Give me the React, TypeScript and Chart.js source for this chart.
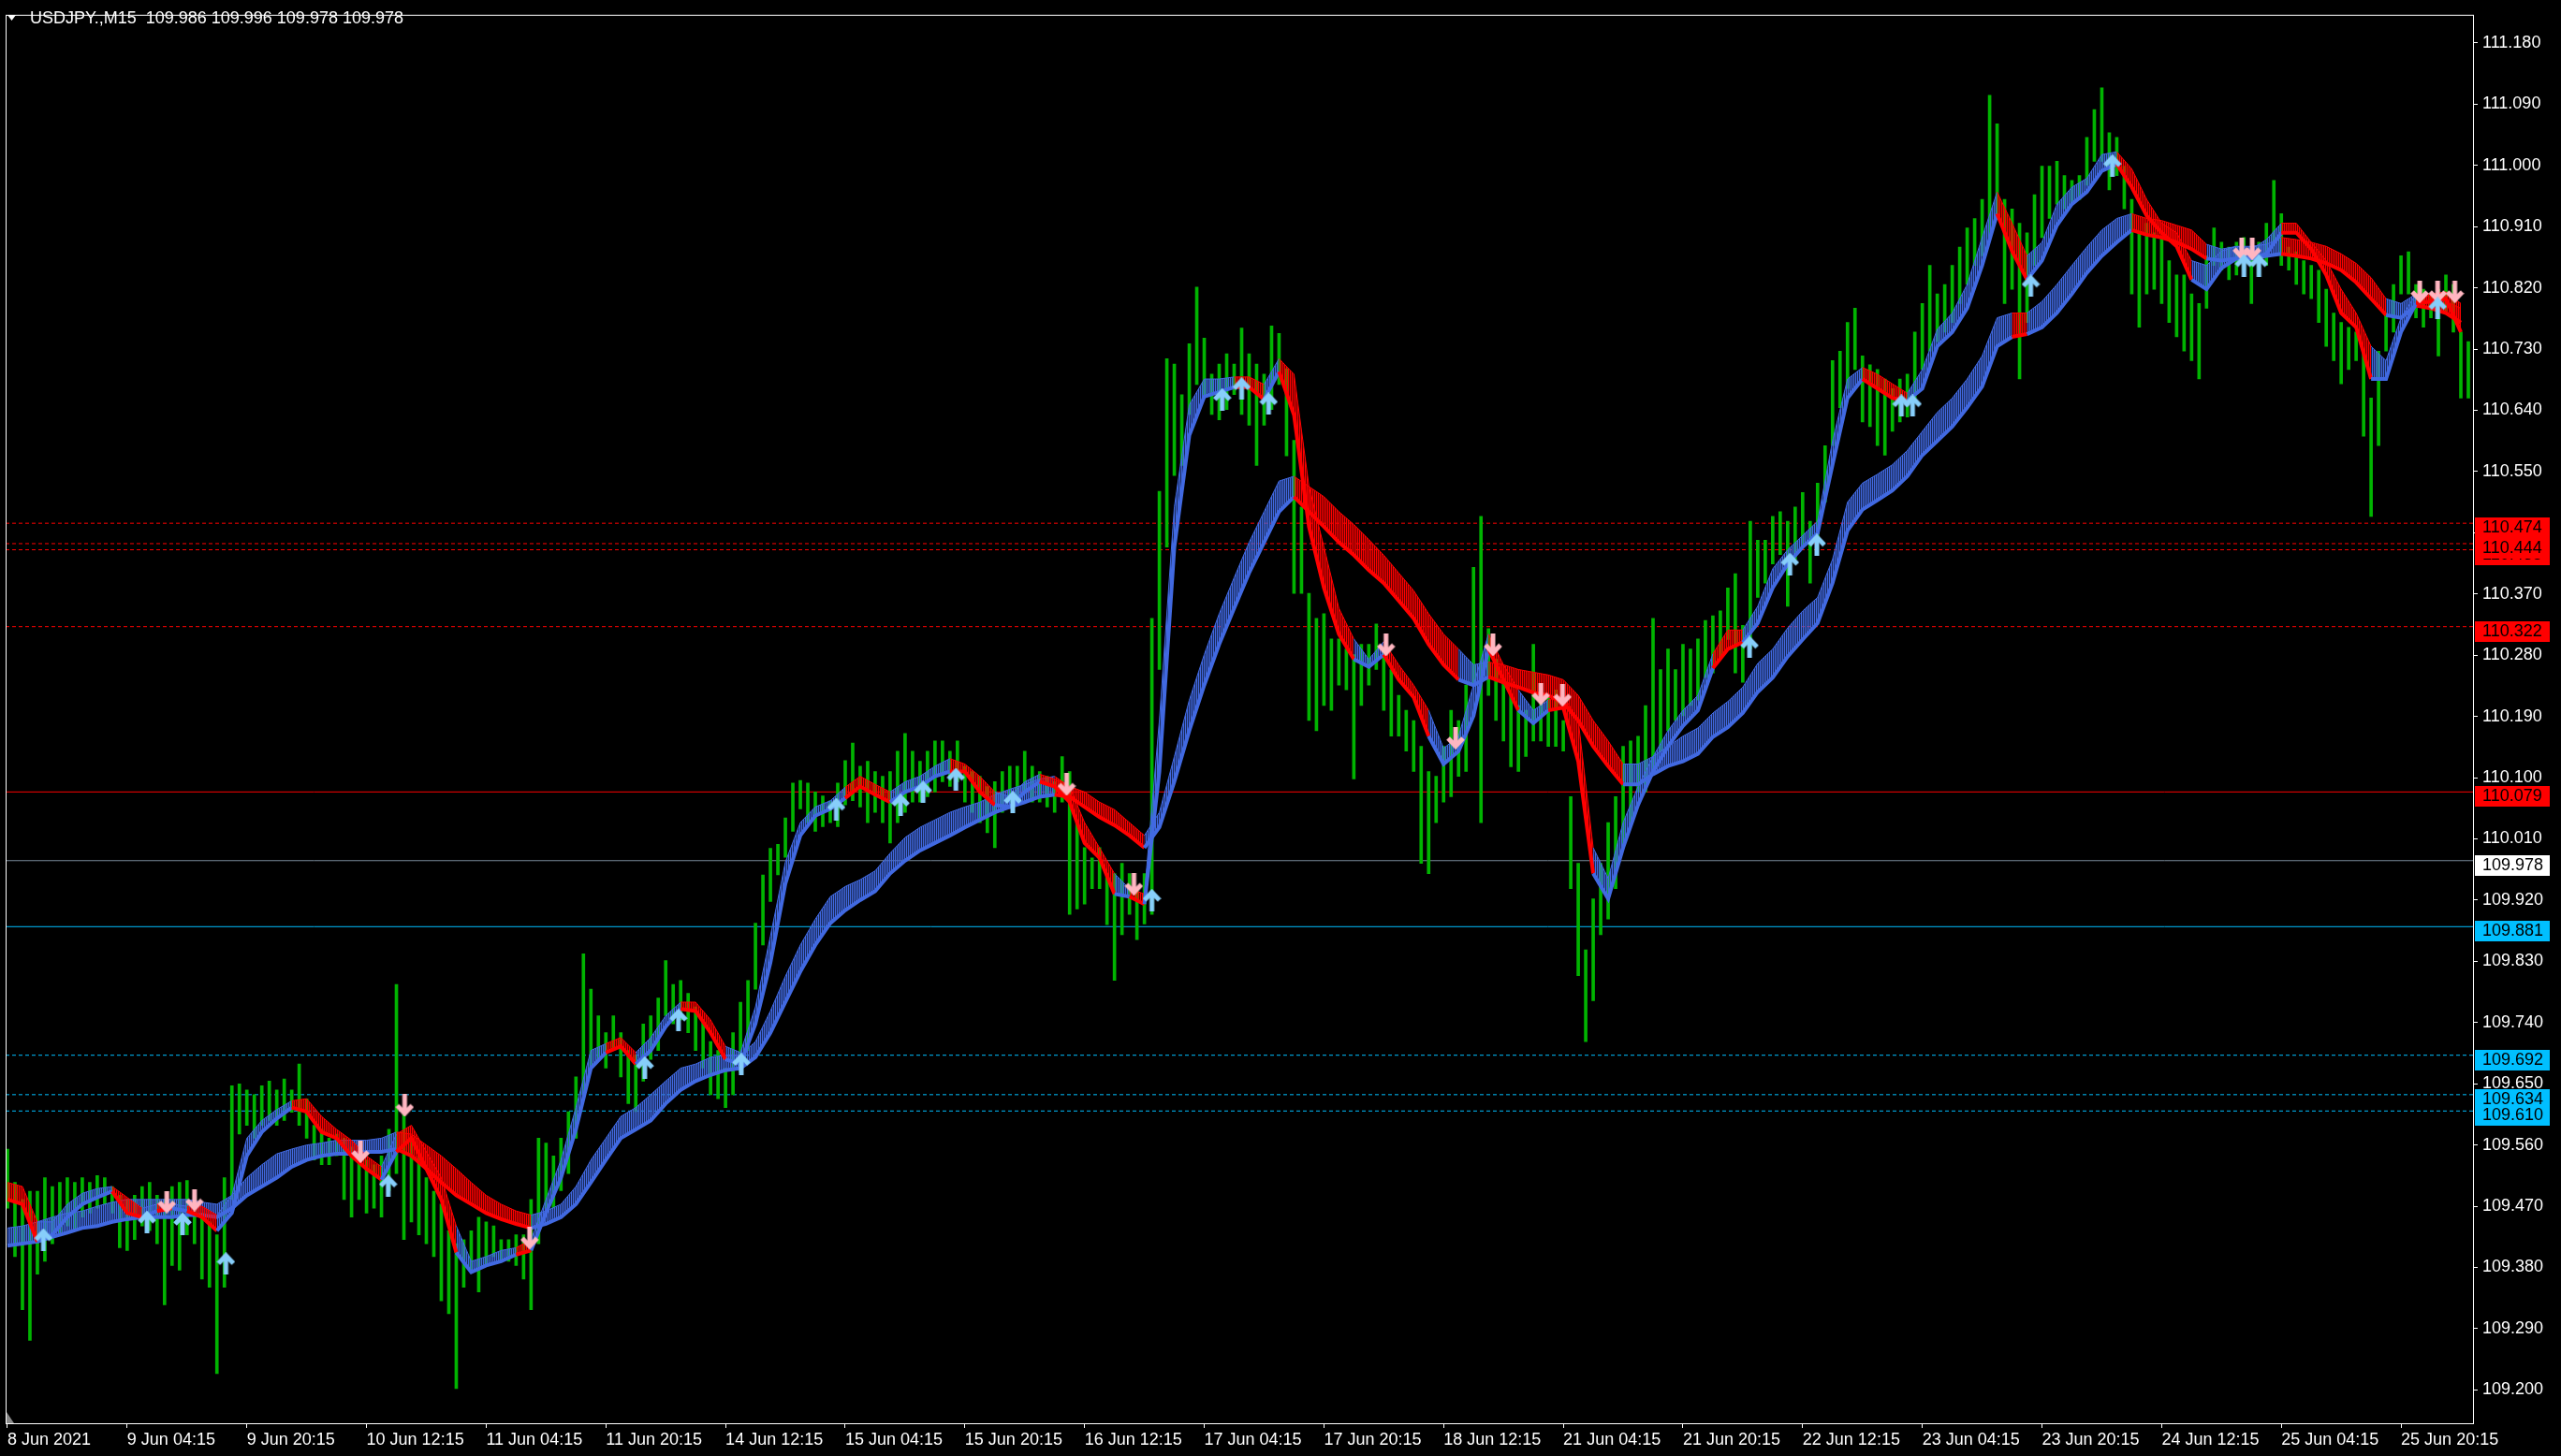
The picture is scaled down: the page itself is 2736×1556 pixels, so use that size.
import React, { useEffect, useRef } from 'react';
import { Chart, registerables } from 'chart.js';
Chart.register(...registerables);

const W = 2736;
const H = 1556;
const FONT = '"Liberation Sans", Arial, sans-serif';
const BASE = 109;
const toPrice = (p: number) => BASE + p / 1000;

const symbolTitle = 'USDJPY.,M15';
const headerValues = [109.986, 109.996, 109.978, 109.978];

const xTickHours = [0, 16, 32, 48, 64, 80, 96, 112, 128, 144, 160, 176, 192, 208, 224, 240, 256, 272, 288, 304, 320];
const xLabels = ['8 Jun 2021', '9 Jun 04:15', '9 Jun 20:15', '10 Jun 12:15', '11 Jun 04:15', '11 Jun 20:15', '14 Jun 12:15', '15 Jun 04:15', '15 Jun 20:15', '16 Jun 12:15', '17 Jun 04:15', '17 Jun 20:15', '18 Jun 12:15', '21 Jun 04:15', '21 Jun 20:15', '22 Jun 12:15', '23 Jun 04:15', '23 Jun 20:15', '24 Jun 12:15', '25 Jun 04:15', '25 Jun 20:15'];
const yTicks = [109.200, 109.290, 109.380, 109.470, 109.560, 109.650, 109.740, 109.830, 109.920, 110.010, 110.100, 110.190, 110.280, 110.370, 110.460, 110.550, 110.640, 110.730, 110.820, 110.910, 111.000, 111.090, 111.180];

// hourly high / low, in points above 109.000
const priceHigh = [
  554,505,480,492,492,512,499,505,512,505,
  512,505,515,512,499,486,480,486,499,505,
  486,480,499,505,508,486,460,447,428,512,
  647,650,641,634,647,654,641,657,641,679,
  628,589,583,570,576,570,557,550,538,531,
  544,583,796,609,570,544,512,492,473,434,
  415,421,434,454,447,441,421,421,428,428,
  480,570,563,544,570,609,660,841,789,750,
  725,750,725,699,692,738,750,776,831,796,
  802,783,763,744,712,699,673,725,770,802,
  886,957,996,1002,1041,1092,1096,1092,1079,1073,
  1066,1092,1125,1151,1117,1124,1109,1102,1109,1139,
  1165,1139,1124,1139,1154,1154,1139,1154,1117,1109,
  1102,1087,1094,1109,1117,1117,1139,1117,1109,1102,
  1094,1131,1109,1034,997,982,997,959,959,974,
  959,937,959,1334,1521,1716,1708,1663,1738,1821,
  1746,1693,1708,1723,1708,1761,1723,1708,1693,1764,
  1753,1701,1596,1498,1371,1334,1341,1304,1304,1289,
  1281,1296,1296,1326,1289,1259,1221,1199,1184,1146,
  1109,1102,1146,1199,1184,1236,1409,1484,1319,1274,
  1244,1221,1206,1199,1296,1229,1221,1229,1184,1072,
  974,847,922,974,1034,1072,1146,1154,1161,1206,
  1334,1259,1289,1259,1296,1289,1304,1331,1338,1345,
  1379,1400,1324,1477,1449,1449,1484,1491,1477,1498,
  1519,1477,1533,1588,1713,1727,1769,1790,1720,1707,
  1700,1686,1672,1686,1693,1755,1797,1853,1811,1825,
  1853,1880,1908,1922,1950,2103,2061,1950,1936,1915,
  1901,1957,1999,1999,2006,1985,1978,1985,2041,2082,
  2114,2048,2041,1999,1950,1901,1915,1901,1894,1860,
  1839,1839,1811,1797,1867,1908,1887,1880,1887,1894,
  1880,1887,1915,1978,1929,1880,1873,1860,1853,1846,
  1818,1783,1769,1762,1755,1727,1658,1727,1783,1825,
  1867,1873,1825,1818,1811,1818,1839,1825,1755,1741,
];
const priceLow = [
  467,396,318,273,370,389,415,428,441,434,
  454,460,467,473,460,409,405,421,441,434,
  415,325,383,376,428,415,363,351,224,351,
  480,576,589,570,589,596,589,596,608,589,
  570,538,531,531,544,480,454,480,460,467,
  454,493,518,421,447,428,415,396,331,312,
  202,351,376,344,383,396,389,389,383,363,
  318,415,467,467,493,518,570,634,673,686,
  673,699,660,621,609,654,686,699,750,738,
  744,725,699,673,634,628,615,634,667,699,
  789,854,918,957,983,1021,1054,1034,1021,1028,
  1034,1028,1060,1066,1057,1034,1049,1034,1004,1034,
  1049,1064,1064,1072,1079,1094,1087,1094,1064,1049,
  1034,1019,997,1049,1064,1064,1079,1064,1064,1057,
  1049,1064,899,907,914,937,937,884,802,869,
  899,862,885,899,1259,1439,1544,1559,1634,1678,
  1663,1634,1626,1641,1663,1634,1618,1559,1618,1641,
  1678,1573,1371,1371,1184,1169,1206,1199,1236,1229,
  1098,1206,1236,1259,1199,1161,1161,1139,1109,974,
  959,1034,1064,1072,1102,1109,1236,1034,1221,1184,
  1154,1116,1109,1131,1154,1154,1146,1146,1139,937,
  809,712,772,869,892,937,997,1034,1079,1079,
  1109,1139,1169,1184,1191,1206,1214,1247,1254,1275,
  1303,1254,1240,1289,1365,1386,1414,1428,1352,1421,
  1442,1386,1449,1505,1588,1644,1672,1700,1623,1616,
  1588,1574,1609,1623,1630,1658,1700,1727,1741,1755,
  1769,1797,1825,1853,1867,1894,1922,1797,1818,1686,
  1769,1853,1894,1922,1943,1936,1943,1950,1971,2006,
  2006,1964,1985,1936,1811,1762,1811,1818,1797,1769,
  1748,1727,1713,1686,1790,1853,1846,1832,1839,1846,
  1797,1839,1853,1887,1853,1846,1825,1811,1804,1769,
  1734,1713,1679,1700,1713,1602,1484,1588,1727,1755,
  1811,1811,1776,1762,1776,1720,1783,1755,1658,1658,
];

// bands, one value every 2 hours (points above 109.000)
const fastLow = [
  480,473,418,428,454,473,483,492,460,454,
  463,467,463,454,434,460,544,579,599,615,
  609,579,570,544,525,509,550,570,525,480,
  402,373,383,389,399,405,460,512,583,673,
  696,705,679,699,734,760,757,725,686,679,
  738,828,944,1015,1044,1054,1070,
  1087,1075,1064,1079,1087,1102,1109,1109,1079,1060,
  1057,1079,1094,1087,1064,1004,982,929,925,914,
  1109,1439,1603,1660,1667,1674,1674,1656,1697,1633,
  1469,1379,1311,1274,1263,1281,1244,1218,1161,1120,
  1139,1191,1289,1244,1199,1180,1199,1203,1124,959,
  922,997,1060,1109,1146,1176,1199,
  1261,1289,1299,1327,1379,1414,1439,1459,1560,1658,
  1686,1672,1658,1654,1672,1734,1755,1790,1853,1929,
  1874,1832,1860,1912,1943,1961,1992,2002,1968,1926,
  1901,1881,1832,1818,1849,1863,1863,1870,1901,1901,
  1877,1839,1783,1762,1686,1686,1755,1797,1800,1804,
  1755,
];
const fastHigh = [
  505,499,447,447,473,489,496,499,483,467,
  473,473,470,470,457,486,570,596,612,625,
  628,602,583,567,544,528,576,589,550,512,
  441,389,396,405,409,421,480,538,615,699,
  709,718,696,718,750,770,770,744,705,696,
  763,867,976,1034,1057,1066,1086,
  1102,1090,1079,1094,1102,1117,1128,1120,1102,1079,
  1072,1094,1105,1098,1087,1034,997,959,937,929,
  1184,1498,1648,1686,1686,1689,1689,1678,1716,1693,
  1528,1439,1349,1304,1274,1300,1266,1236,1199,1143,
  1161,1236,1311,1266,1229,1199,1214,1221,1184,997,
  952,1034,1087,1131,1169,1199,1221,
  1282,1317,1317,1352,1407,1435,1456,1477,1595,1686,
  1703,1693,1679,1665,1700,1759,1783,1825,1894,1961,
  1915,1867,1887,1943,1968,1981,2016,2020,1995,1950,
  1915,1901,1860,1853,1874,1881,1877,1891,1915,1915,
  1887,1860,1818,1783,1734,1713,1776,1811,1811,1814,
  1797,
];
const fastUp = [
  1,0,0,1,1,1,1,1,0,0, 1,0,1,0,0,1,1,1,1,1, 0,0,0,0,0,0,1,0,0,0, 0,1,1,1,1,0,1,1,1,1, 1,0,0,1,1,1,0,0,0,1, 1,1,1,1,1,1,1,
  0,0,0,1,1,1,1,0,0,0, 1,1,1,0,0,0,0,0,1,0, 1,1,1,1,1,1,0,0,1,0, 0,0,0,0,1,1,0,0,0,1, 1,1,1,0,0,1,1,0,0,0, 1,1,1,1,1,1,1,
  1,0,0,1,1,1,1,1,1,1, 1,0,0,0,1,1,1,1,1,1, 0,0,1,1,1,1,1,1,0,0, 0,0,0,1,1,1,1,1,1,0, 0,0,0,0,0,1,1,1,0,0, 0,
];
const slowLow = [
  412,415,418,425,431,438,441,447,451,454,
  454,454,457,457,454,467,486,499,512,528,
  538,544,547,547,550,550,554,544,525,505,
  486,473,460,451,444,438,444,454,473,505,
  538,570,583,596,621,641,654,663,670,673,
  689,725,770,815,854,886,905,
  920,933,959,978,993,1004,1015,1027,1038,1049,
  1057,1064,1072,1075,1072,1057,1042,1030,1015,997,
  1027,1094,1169,1236,1296,1349,1401,1446,1491,1513,
  1491,1469,1446,1427,1405,1386,1360,1334,1296,1266,
  1244,1236,1248,1240,1233,1225,1221,1210,1184,1146,
  1117,1090,1090,1105,1117,1124,1135,
  1160,1174,1195,1226,1247,1278,1303,1327,1386,1463,
  1494,1508,1522,1543,1574,1595,1616,1644,1675,1734,
  1748,1752,1762,1783,1811,1842,1867,1887,1905,1898,
  1894,1887,1877,1863,1860,1863,1863,1867,1870,1867,
  1863,1856,1846,1828,1804,1780,1776,1794,1790,1783,
  1769,
];
const slowHigh = [
  438,441,447,454,460,463,470,476,480,480,
  480,480,480,476,473,486,512,531,547,554,
  560,563,567,567,567,570,579,576,560,544,
  525,505,486,473,463,457,463,473,499,538,
  570,602,615,634,654,673,679,689,692,692,
  712,757,808,854,892,925,940,
  950,963,989,1012,1027,1038,1049,1057,1064,1075,
  1083,1090,1098,1102,1087,1079,1064,1053,1034,1015,
  1049,1131,1214,1281,1341,1394,1446,1491,1536,1543,
  1528,1513,1491,1472,1450,1427,1401,1375,1341,1311,
  1289,1266,1270,1266,1259,1255,1251,1244,1221,1184,
  1154,1120,1120,1131,1146,1161,1173,
  1195,1212,1233,1268,1289,1320,1345,1365,1421,1505,
  1533,1546,1560,1581,1609,1637,1658,1686,1720,1776,
  1783,1783,1800,1825,1853,1880,1905,1922,1929,1922,
  1919,1912,1905,1884,1877,1881,1881,1884,1894,1891,
  1887,1881,1870,1856,1835,1804,1797,1811,1807,1800,
  1790,
];
const slowUp = [
  1,1,1,1,1,1,1,1,1,1, 1,1,1,1,1,1,1,1,1,1, 1,1,1,1,1,1,1,0,0,0, 0,0,0,0,0,0,1,1,1,1, 1,1,1,1,1,1,1,1,1,1, 1,1,1,1,1,1,1,
  1,1,1,1,1,1,1,1,1,1, 1,1,1,1,0,0,0,0,0,0, 1,1,1,1,1,1,1,1,1,1, 0,0,0,0,0,0,0,0,0,0, 0,1,1,0,0,0,0,0,0,0, 0,0,1,1,1,1,1,
  1,1,1,1,1,1,1,1,1,1, 1,1,1,1,1,1,1,1,1,1, 1,0,1,1,1,1,1,1,1,0, 0,0,0,0,1,1,1,1,1,0, 0,0,0,0,0,0,1,1,0,0, 0,
];

const upArrowHours = [4.8, 18.65, 23.4, 29.2, 50.9, 85.2, 89.7, 98.1, 110.8, 119.4, 122.4, 126.8, 134.4, 153, 162.4, 165, 168.6, 232.9, 238.3, 241.9, 253.2, 254.7, 270.5, 281.4, 299, 301, 324.9];
const upArrowPts = [421, 447, 444, 386, 500, 674, 744, 679, 1054, 1060, 1079, 1098, 1064, 920, 1656, 1672, 1650, 1292, 1414, 1442, 1647, 1647, 1823, 2000, 1853, 1853, 1790];
const downArrowHours = [21.3, 25, 47.2, 53.1, 69.8, 141.6, 150.6, 184.3, 193.6, 198.6, 205, 207.9, 298.7, 300.1, 322.5, 324.9, 327.2];
const downArrowPts = [476, 479, 550, 618, 423, 1090, 943, 1295, 1158, 1295, 1223, 1221, 1877, 1877, 1814, 1814, 1814];

const redDotLevels = [110.474, 110.435, 110.444, 110.322];
const redSolidLevels = [110.079];
const bidLevels = [109.978];
const blueSolidLevels = [109.881];
const blueDotLevels = [109.692, 109.634, 109.610];

const X_MIN = -0.25;
const X_MAX = 329.625;
const Y_MIN = 109.151;
const Y_MAX = 111.2214;

const BLUE = '#4169E1';
const RED = '#FF0000';
const GREEN = '#00B400';
const CYAN = '#00BFFF';
const GRAY = '#778899';

function hatch(color: string, faint: string) {
  const c = document.createElement('canvas');
  c.width = 2; c.height = 1;
  const g = c.getContext('2d')!;
  g.fillStyle = color;
  g.fillRect(0, 0, 1, 1);
  g.fillStyle = faint;
  g.fillRect(1, 0, 1, 1);
  return g.createPattern(c, 'repeat')!;
}

function makeArrow(color: string, up: boolean) {
  const c = document.createElement('canvas');
  c.width = 20; c.height = 24;
  const g = c.getContext('2d')!;
  if (!up) { g.translate(0, 24); g.scale(1, -1); }
  g.fillStyle = color;
  g.fillRect(7.5, 3, 5, 21);
  g.strokeStyle = color;
  g.lineWidth = 5;
  g.lineJoin = 'miter';
  g.beginPath();
  g.moveTo(2, 12); g.lineTo(10, 3.5); g.lineTo(18, 12);
  g.stroke();
  return c;
}

export default function App() {
  const ref = useRef<HTMLCanvasElement>(null);
  useEffect(() => {
    const canvas = ref.current!;
    const blueHatch = hatch(BLUE, 'rgba(65,105,225,0.4)');
    const redHatch = hatch(RED, 'rgba(255,0,0,0.4)');
    const upImg = makeArrow('#87CEFA', true);
    const downImg = makeArrow('#FFB6C1', false);

    const band = (arr: number[]) => arr.map((v, i) => ({ x: i * 2, y: toPrice(v) }));
    const level = (v: number) => [{ x: X_MIN, y: v }, { x: X_MAX, y: v }];

    const datasets: any[] = [];
    datasets.push({
      type: 'line', data: upArrowHours.map((h, i) => ({ x: h, y: toPrice(upArrowPts[i]) })),
      showLine: false, pointStyle: upImg, pointRadius: 5, order: 1,
    });
    datasets.push({
      type: 'line', data: downArrowHours.map((h, i) => ({ x: h, y: toPrice(downArrowPts[i]) })),
      showLine: false, pointStyle: downImg, pointRadius: 5, order: 1,
    });
    // fast band: index 2 (thick lower), 3 (thin upper with hatch fill)
    datasets.push({
      type: 'line', data: band(fastLow), borderWidth: 4, borderColor: BLUE, pointRadius: 0, order: 10,
      segment: { borderColor: (c: any) => (fastUp[c.p1DataIndex] ? BLUE : RED) },
    });
    datasets.push({
      type: 'line', data: band(fastHigh), borderWidth: 1, borderColor: BLUE, pointRadius: 0, order: 11,
      fill: 2, backgroundColor: blueHatch,
      segment: {
        borderColor: (c: any) => (fastUp[c.p1DataIndex] ? BLUE : RED),
        backgroundColor: (c: any) => (fastUp[c.p1DataIndex] ? blueHatch : redHatch),
      },
    });
    // slow band: index 4, 5
    datasets.push({
      type: 'line', data: band(slowLow), borderWidth: 4, borderColor: BLUE, pointRadius: 0, order: 20,
      segment: { borderColor: (c: any) => (slowUp[c.p1DataIndex] ? BLUE : RED) },
    });
    datasets.push({
      type: 'line', data: band(slowHigh), borderWidth: 1, borderColor: BLUE, pointRadius: 0, order: 21,
      fill: 4, backgroundColor: blueHatch,
      segment: {
        borderColor: (c: any) => (slowUp[c.p1DataIndex] ? BLUE : RED),
        backgroundColor: (c: any) => (slowUp[c.p1DataIndex] ? blueHatch : redHatch),
      },
    });
    datasets.push({
      type: 'bar', data: priceHigh.map((hi, i) => ({ x: i, y: [toPrice(priceLow[i]), toPrice(hi)] })),
      backgroundColor: GREEN, borderWidth: 0, barThickness: 3, order: 30,
    });
    const addLevels = (vals: number[], color: string, dash: number[]) => {
      vals.forEach((v) => datasets.push({
        type: 'line', data: level(v), borderColor: color, borderWidth: 1, borderDash: dash,
        pointRadius: 0, order: 40, fill: false,
      }));
    };
    addLevels(redDotLevels, RED, [4, 3]);
    addLevels(redSolidLevels, RED, []);
    addLevels(bidLevels, GRAY, []);
    addLevels(blueSolidLevels, CYAN, []);
    addLevels(blueDotLevels, CYAN, [4, 3]);

    const overlay = {
      id: 'overlay',
      afterDatasetsDraw(chart: any) {
        const { ctx, chartArea: a } = chart;
        ctx.save();
        ctx.strokeStyle = '#FFFFFF';
        ctx.lineWidth = 1;
        ctx.strokeRect(a.left + 0.5, a.top + 0.5, a.right - a.left, a.bottom - a.top);
        ctx.restore();
      },
      afterDraw(chart: any) {
        const { ctx, chartArea: a } = chart;
        const y = chart.scales.y;
        ctx.save();
        ctx.font = `18px ${FONT}`;
        ctx.textBaseline = 'middle';
        ctx.textAlign = 'left';
        const lab = (v: number, bg: string) => {
          const py = Math.round(y.getPixelForValue(v));
          ctx.fillStyle = bg;
          ctx.fillRect(a.right + 2, py - 6, 80, 22);
          ctx.fillStyle = '#000000';
          ctx.fillText(v.toFixed(3), a.right + 10, py + 5);
        };
        redDotLevels.forEach((v) => lab(v, RED));
        redSolidLevels.forEach((v) => lab(v, RED));
        bidLevels.forEach((v) => lab(v, '#FFFFFF'));
        blueSolidLevels.forEach((v) => lab(v, CYAN));
        blueDotLevels.forEach((v) => lab(v, CYAN));
        // header
        ctx.fillStyle = '#FFFFFF';
        ctx.beginPath();
        ctx.moveTo(8, 16); ctx.lineTo(17, 16); ctx.lineTo(12.5, 22); ctx.closePath(); ctx.fill();
        ctx.fillText(`${symbolTitle}  ${headerValues.map((v) => v.toFixed(3)).join(' ')}`, 32, 20);
        // small corner marker
        ctx.fillStyle = '#8A8A8A';
        ctx.beginPath();
        ctx.moveTo(a.left + 1, a.bottom - 12); ctx.lineTo(a.left + 1, a.bottom); ctx.lineTo(a.left + 9, a.bottom); ctx.closePath(); ctx.fill();
        ctx.restore();
      },
    };

    const chart = new Chart(canvas, {
      type: 'line',
      data: { datasets },
      options: {
        responsive: false,
        animation: false,
        devicePixelRatio: 1,
        events: [],
        layout: { padding: { left: 3, top: 4, right: 0, bottom: 0 } },
        plugins: { legend: { display: false }, tooltip: { enabled: false } },
        elements: { line: { tension: 0 } },
        scales: {
          x: {
            type: 'linear', min: X_MIN, max: X_MAX, offset: false,
            afterBuildTicks: (s: any) => { s.ticks = xTickHours.map((v) => ({ value: v })); },
            afterFit: (s: any) => { s.height = 35; },
            grid: { display: true, drawOnChartArea: false, drawTicks: true, tickLength: 5, color: '#FFFFFF', offset: false },
            border: { display: false },
            ticks: {
              color: '#FFFFFF', font: { family: FONT, size: 18 }, autoSkip: false, maxRotation: 0, minRotation: 0,
              align: 'start', padding: 2,
              callback: (v: any) => { const i = xTickHours.indexOf(Number(v)); return i >= 0 ? xLabels[i] : ''; },
            },
          },
          y: {
            type: 'linear', position: 'right', min: Y_MIN, max: Y_MAX,
            afterBuildTicks: (s: any) => { s.ticks = yTicks.map((v) => ({ value: v })); },
            afterFit: (s: any) => { s.width = 94; },
            grid: { display: true, drawOnChartArea: false, drawTicks: true, tickLength: 5, color: '#FFFFFF' },
            border: { display: false },
            ticks: {
              color: '#FFFFFF', font: { family: FONT, size: 18 }, padding: 5,
              callback: (v: any) => Number(v).toFixed(3),
            },
          },
        },
      } as any,
      plugins: [overlay],
    });
    return () => chart.destroy();
  }, []);

  return (
    <div style={{ position: 'fixed', left: 0, top: 0, width: W, height: H, background: '#000000' }}>
      <canvas ref={ref} width={W} height={H} style={{ width: W, height: H, display: 'block' }} />
    </div>
  );
}
